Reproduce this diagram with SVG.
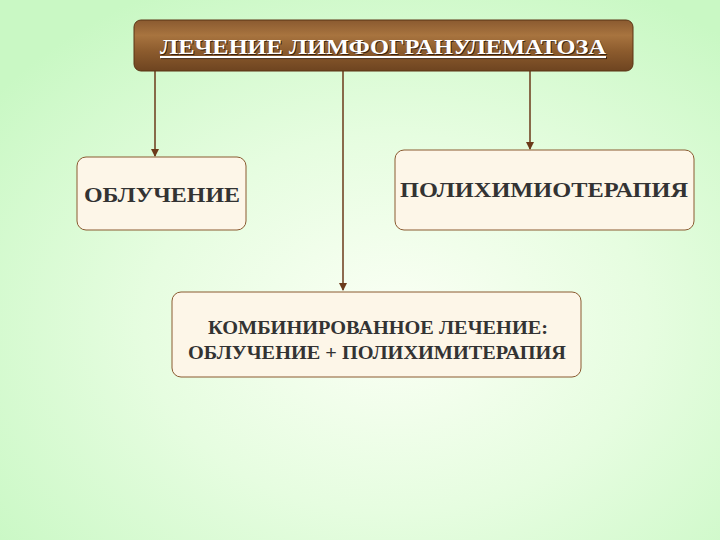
<svg xmlns="http://www.w3.org/2000/svg" width="720" height="540" viewBox="0 0 720 540">
<defs>
<radialGradient id="bg" cx="0.55" cy="0.6" r="0.7">
<stop offset="0" stop-color="#fbfff5"/><stop offset="0.5" stop-color="#e6fde0"/><stop offset="1" stop-color="#c9f8c4"/>
</radialGradient>
<linearGradient id="wood" x1="0" y1="0" x2="0" y2="1">
<stop offset="0" stop-color="#8a5a30"/><stop offset="0.3" stop-color="#a8743f"/><stop offset="0.6" stop-color="#8d5c2e"/><stop offset="1" stop-color="#6e4420"/>
</linearGradient>
<marker id="ah" markerWidth="8" markerHeight="8" refX="7" refY="4" orient="auto" markerUnits="userSpaceOnUse" viewBox="0 0 8 8">
<path d="M0,0 L8,4 L0,8 Z" fill="#6b3a1a"/>
</marker>
<style>
.box{fill:#fdf6e8;stroke:#8a5a30;stroke-width:1}
.t{font-family:"Liberation Serif",serif;font-weight:bold;fill:#333;text-anchor:middle}
.c{stroke:#6b3a1a;stroke-width:1.5;fill:none}
</style>
</defs>
<rect width="720" height="540" fill="url(#bg)"/>
<g id="connectors">
<path class="c" d="M155,71 V156" marker-end="url(#ah)"/>
<path class="c" d="M343,71 V290" marker-end="url(#ah)"/>
<path class="c" d="M530,71 V149" marker-end="url(#ah)"/>
</g>
<g id="header">
<rect x="134" y="20" width="499" height="51" rx="7" fill="url(#wood)" stroke="#5a3515"/>
<text x="384" y="55" class="t" font-size="21" style="fill:#3a2210" textLength="446" lengthAdjust="spacingAndGlyphs" text-decoration="underline">ЛЕЧЕНИЕ ЛИМФОГРАНУЛЕМАТОЗА</text>
<text x="383" y="54" class="t" font-size="21" style="fill:#fff" textLength="446" lengthAdjust="spacingAndGlyphs" text-decoration="underline">ЛЕЧЕНИЕ ЛИМФОГРАНУЛЕМАТОЗА</text>
</g>
<g id="n1">
<rect class="box" x="77" y="157" width="169" height="73" rx="9"/>
<text class="t" x="162" y="202" font-size="20" textLength="156" lengthAdjust="spacingAndGlyphs">ОБЛУЧЕНИЕ</text>
</g>
<g id="n2">
<rect class="box" x="395" y="150" width="299" height="80" rx="9"/>
<text class="t" x="544" y="197" font-size="20" textLength="288" lengthAdjust="spacingAndGlyphs">ПОЛИХИМИОТЕРАПИЯ</text>
</g>
<g id="n3">
<rect class="box" x="172" y="292" width="409" height="85" rx="9"/>
<text class="t" x="378" y="334" font-size="18" textLength="340" lengthAdjust="spacingAndGlyphs">КОМБИНИРОВАННОЕ ЛЕЧЕНИЕ:</text>
<text class="t" x="377" y="359" font-size="18" textLength="378" lengthAdjust="spacingAndGlyphs">ОБЛУЧЕНИЕ + ПОЛИХИМИТЕРАПИЯ</text>
</g>
</svg>
